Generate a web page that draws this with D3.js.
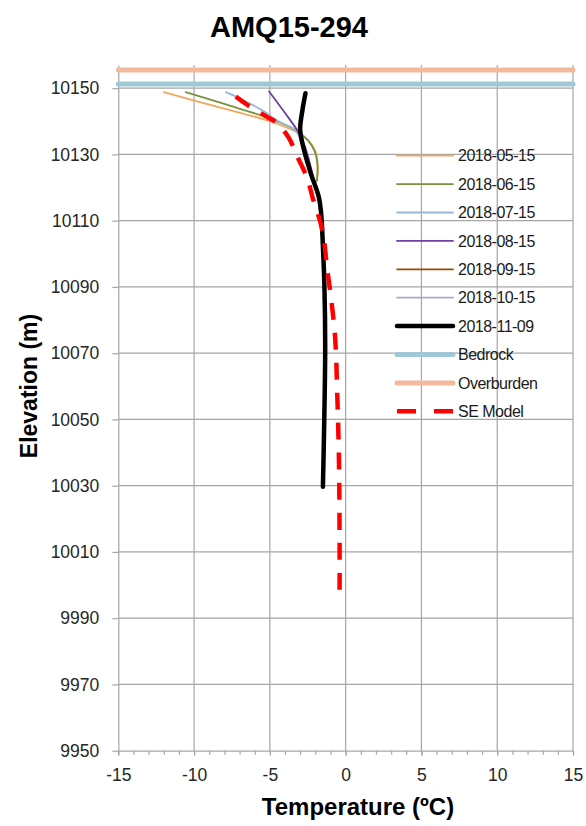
<!DOCTYPE html>
<html>
<head>
<meta charset="utf-8">
<script src="https://cdn.jsdelivr.net/npm/d3@7"></script>
<style>
	body { margin: 0; background: #fff; }
	text { font-family: 'Liberation Sans', Arial, sans-serif; }
</style>
</head>
<body>
<svg id="chart" width="586" height="826"></svg>
<script>
// temperature profiles, [temp degC, elevation m]
var may15 = [[-12.0, 10148.8], [-8.5, 10144.4], [-5.05, 10140.1], [-3.1, 10136.4], [-2.45, 10134.2], [-2.0, 10131.0], [-1.85, 10126.5], [-1.9, 10122.0]];
var jun15 = [[-10.55, 10148.8], [-7.9, 10145.1], [-5.3, 10141.3], [-3.3, 10137.4], [-2.5, 10134.3], [-2.05, 10131.0], [-1.85, 10126.5], [-1.9, 10122.0]];
var jul15 = [[-7.9, 10148.8], [-6.8, 10146.5], [-5.5, 10143.3], [-4.4, 10139.9], [-3.3, 10137.2], [-2.9, 10133.5], [-2.6, 10128.0], [-2.2, 10122.0]];
var aug15 = [[-5.05, 10149.0], [-4.0, 10142.5], [-3.1, 10136.6], [-2.7, 10132.5], [-2.4, 10128.0], [-2.1, 10122.0]];
var sep15 = [[-2.7, 10148.5], [-2.88, 10143.0], [-2.95, 10137.5], [-2.72, 10131.5], [-2.28, 10124.3], [-1.8, 10117.0]];
var oct15 = [[-2.6, 10148.5], [-2.82, 10143.2], [-2.98, 10137.4], [-2.78, 10131.4], [-2.32, 10124.3], [-1.76, 10117.3]];
var nov09 = [[-2.65, 10148.5], [-2.85, 10143.4], [-3.0, 10137.4], [-2.75, 10131.4], [-2.3, 10124.3], [-1.78, 10117.3], [-1.62, 10112.3], [-1.5, 10102.2], [-1.4, 10090.0], [-1.35, 10072.0], [-1.41, 10050.0], [-1.5, 10029.7]];
var bedrock = [[-15, 10151.3], [15, 10151.3]];
var overburden = [[-15, 10155.5], [15, 10155.5]];
var seModel = [[-7.25, 10147.5], [-6.5, 10145.0], [-5.06, 10141.0], [-4.5, 10139.4], [-3.74, 10134.9], [-3.19, 10129.4], [-2.53, 10122.8], [-2.2, 10117.3], [-1.54, 10107.2], [-1.21, 10095.1], [-1.0, 10088.0], [-0.7, 10075.0], [-0.55, 10057.0], [-0.44, 10037.0], [-0.4, 10012.0], [-0.4, 9997.0]];

var seriesNames = ['2018-05-15', '2018-06-15', '2018-07-15', '2018-08-15', '2018-09-15', '2018-10-15', '2018-11-09', 'Bedrock', 'Overburden', 'SE Model'];
var seriesData = [may15, jun15, jul15, aug15, sep15, oct15, nov09, bedrock, overburden, seModel];

var xTicks = [-15, -10, -5, 0, 5, 10, 15];
var yTicks = [9950, 9970, 9990, 10010, 10030, 10050, 10070, 10090, 10110, 10130, 10150];

var colors = ['#f2a65e', '#77933c', '#9ab5d6', '#7040a0', '#984807', '#b0a8c0', '#000000', '#9fc8d6', '#f3b99c', '#ff0000'];
var widths = [1.8, 1.8, 1.8, 1.8, 1.8, 1.8, 4.5, 5, 5, 4.5];

var svg = d3.select('#chart'),
	margin = {top: 65, right: 13, bottom: 75.3, left: 118.3},
	width = +svg.attr('width') - margin.left - margin.right,
	height = +svg.attr('height') - margin.top - margin.bottom;

var x = d3.scaleLinear().domain([-15, 15]).range([0, width]),
	y = d3.scaleLinear().domain([9950, 10157]).range([height, 0]);

// plain hyphen minus, no thousands separator
var plain = function(d) { return String(d); };

var g = svg.append('g')
	.attr('transform', 'translate(' + margin.left + ',' + margin.top + ')');

// gridlines
g.selectAll('.vgrid')
	.data(xTicks.slice(1))
	.enter().append('line')
	.attr('x1', function(d) { return x(d); })
	.attr('x2', function(d) { return x(d); })
	.attr('y1', 0)
	.attr('y2', height)
	.attr('stroke', '#a6a6a6')
	.attr('stroke-width', 1.2);

g.selectAll('.hgrid')
	.data(yTicks.slice(1))
	.enter().append('line')
	.attr('x1', 0)
	.attr('x2', width)
	.attr('y1', function(d) { return y(d); })
	.attr('y2', function(d) { return y(d); })
	.attr('stroke', '#a6a6a6')
	.attr('stroke-width', 1.2);

// x axis with minor ticks
var xAxis = g.append('g')
	.attr('transform', 'translate(0,' + height + ')');
xAxis.append('g')
	.call(d3.axisBottom(x).ticks(30).tickSize(4).tickFormat(''))
	.call(function(a) { a.select('.domain').remove(); });
xAxis.append('g')
	.call(d3.axisBottom(x).tickValues(xTicks).tickFormat(plain).tickSize(5).tickPadding(13).tickSizeOuter(0))
	.attr('font-size', 17.5)
	.attr('font-family', null);
xAxis.selectAll('line, path').attr('stroke', '#a6a6a6').attr('stroke-width', 1.2);
xAxis.selectAll('text').attr('fill', '#262626');

var yAxis = g.append('g')
	.call(d3.axisLeft(y).tickValues(yTicks).tickFormat(plain).tickSize(6).tickPadding(13).tickSizeOuter(0))
	.attr('font-size', 17.5)
	.attr('font-family', null);
yAxis.selectAll('line, path').attr('stroke', '#a6a6a6').attr('stroke-width', 1.2);
yAxis.selectAll('text').attr('fill', '#262626');

// lines
var line = d3.line()
	.x(function(d) { return x(d[0]); })
	.y(function(d) { return y(d[1]); })
	.curve(d3.curveCatmullRom);

var drawOrder = [7, 8, 0, 1, 2, 3, 4, 5, 6, 9];
drawOrder.forEach(function(i) {
	g.append('path')
		.datum(seriesData[i])
		.attr('fill', 'none')
		.attr('stroke', colors[i])
		.attr('stroke-width', widths[i])
		.attr('stroke-linecap', i === 9 ? 'butt' : 'round')
		.attr('stroke-dasharray', i === 9 ? '17,13' : null)
		.attr('d', line);
});

// legend
var legend = svg.append('g')
	.attr('transform', 'translate(397,155.7)');

var item = legend.selectAll('.item')
	.data(seriesNames)
	.enter().append('g')
	.attr('transform', function(d, i) { return 'translate(0,' + (i * 28.4) + ')'; });

item.append('line')
	.attr('x1', 0)
	.attr('x2', 56)
	.attr('stroke', function(d, i) { return colors[i]; })
	.attr('stroke-width', function(d, i) { return widths[i]; })
	.attr('stroke-linecap', function(d, i) { return i === 9 ? 'butt' : 'round'; })
	.attr('stroke-dasharray', function(d, i) { return i === 9 ? '19,18' : null; });

item.append('text')
	.attr('x', 61)
	.attr('dy', '0.35em')
	.attr('font-size', 16)
	.attr('letter-spacing', -0.5)
	.attr('fill', '#1a1a1a')
	.text(function(d) { return d; });

// titles
svg.append('text')
	.attr('x', 289)
	.attr('y', 37)
	.attr('text-anchor', 'middle')
	.attr('font-size', 29)
	.attr('font-weight', 'bold')
	.text('AMQ15-294');

svg.append('text')
	.attr('x', 358)
	.attr('y', 815)
	.attr('text-anchor', 'middle')
	.attr('font-size', 24)
	.attr('font-weight', 'bold')
	.text('Temperature (ºC)');

svg.append('text')
	.attr('transform', 'translate(37,386) rotate(-90)')
	.attr('text-anchor', 'middle')
	.attr('font-size', 23)
	.attr('font-weight', 'bold')
	.text('Elevation (m)');
</script>
</body>
</html>
